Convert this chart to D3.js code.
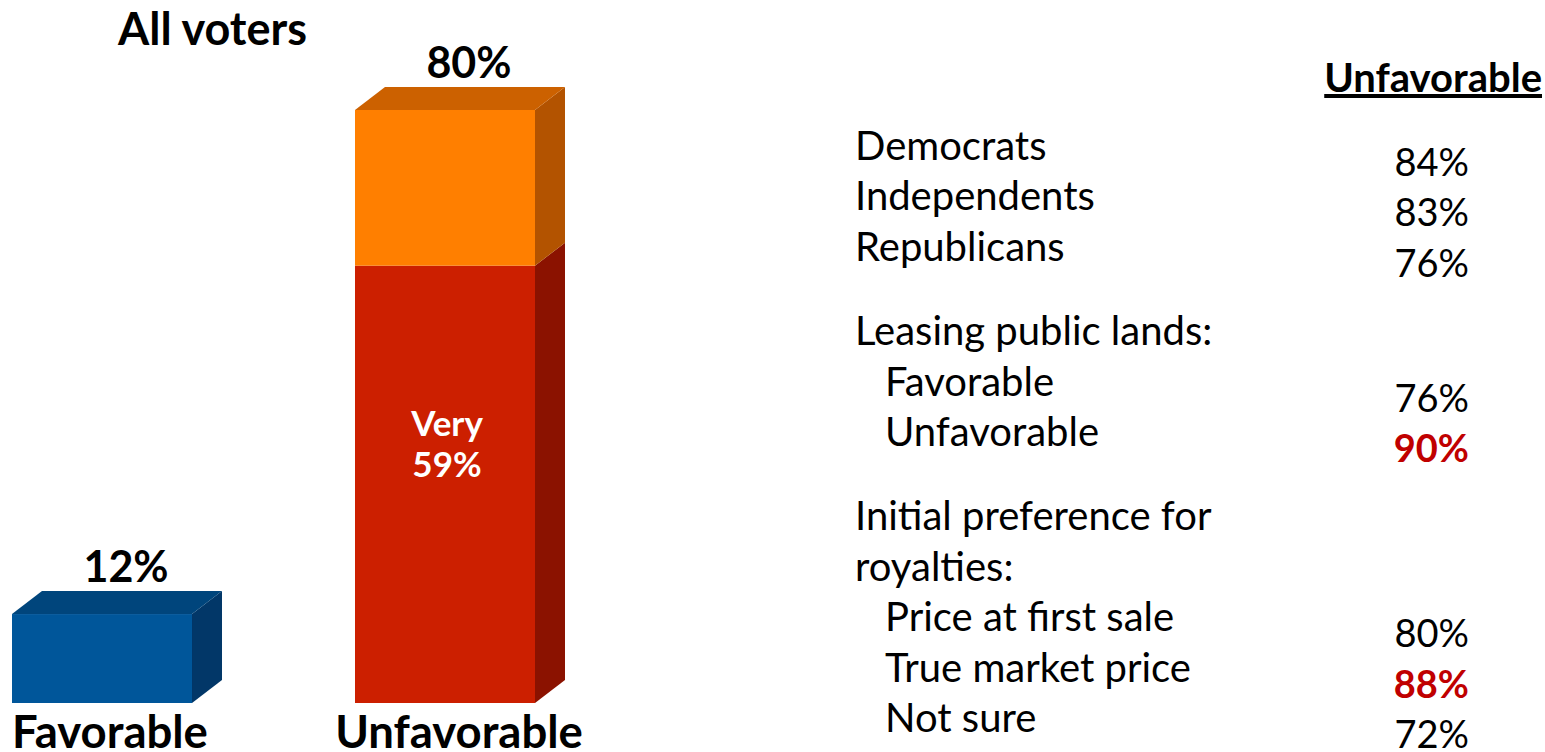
<!DOCTYPE html>
<html>
<head>
<meta charset="utf-8">
<script src="https://cdn.jsdelivr.net/npm/d3@7"></script>
<style>
  html, body { margin: 0; padding: 0; background: #fff; }
  svg { display: block; font-family: "Lato", "Open Sans", sans-serif; }
</style>
</head>
<body>
<svg id="chart" width="1545" height="752"></svg>
<script>
// ---- Data ----
const categories = ["Favorable", "Unfavorable"];
const segmentKeys = ["very", "somewhat"];
const favorableValues = { very: 12, somewhat: 0 };
const unfavorableValues = { very: 59, somewhat: 21 };
const totals = [12, 80];
const insideLabel = ["Very", "59%"];

// Subgroup table on the right
const rowLabels = [
  "Democrats", "Independents", "Republicans",
  "Leasing public lands:", "Favorable", "Unfavorable",
  "Initial preference for", "royalties:", "Price at first sale", "True market price", "Not sure"
];
const rowIndent = [0, 0, 0, 0, 1, 1, 0, 0, 1, 1, 1];
const rowGroup = [0, 0, 0, 1, 1, 1, 2, 2, 2, 2, 2];
const rowValues = [84, 83, 76, null, 76, 90, null, null, 80, 88, 72];
const rowHighlight = [false, false, false, false, false, true, false, false, false, true, false];

// ---- Layout ----
const svg = d3.select("#chart");
const depthX = 30, depthY = 23;

const x = d3.scaleBand().domain(categories).range([12, 535]).paddingInner(0.4752).paddingOuter(0);
const y = d3.scaleLinear().domain([0, 100]).range([703, 703 - 741.25]);

const colors = {
  Favorable: { very: { front: "#00569A", side: "#023768", top: "#00457C" } },
  Unfavorable: {
    very: { front: "#CC1F00", side: "#8B1200", top: "#A31800" },
    somewhat: { front: "#FF7F00", side: "#B35300", top: "#CC6100" }
  }
};

const rows = [
  Object.assign({ category: "Favorable" }, favorableValues),
  Object.assign({ category: "Unfavorable" }, unfavorableValues)
];
const stacked = d3.stack().keys(segmentKeys)(rows);

// flatten into segments
const segs = [];
stacked.forEach(layer => {
  layer.forEach(d => {
    if (d[1] - d[0] > 0) {
      segs.push({ key: layer.key, category: d.data.category, y0: d[0], y1: d[1] });
    }
  });
});

const bars = svg.append("g").attr("class", "bars");

segs.forEach(s => {
  const x0 = x(s.category), x1 = x0 + x.bandwidth();
  const yt = y(s.y1), yb = y(s.y0);
  const c = colors[s.category][s.key];
  // right side face
  bars.append("polygon")
    .attr("points", [[x1, yb], [x1 + depthX, yb - depthY], [x1 + depthX, yt - depthY], [x1, yt]].map(p => p.join(",")).join(" "))
    .attr("fill", c.side);
  // front face
  bars.append("rect")
    .attr("x", x0).attr("y", yt)
    .attr("width", x1 - x0).attr("height", yb - yt)
    .attr("fill", c.front);
});

// top faces for the topmost segment of each bar
const labelShift = [8, 14];
rows.forEach((r, i) => {
  const cat = r.category;
  const total = totals[i];
  const topKey = segs.filter(s => s.category === cat).slice(-1)[0].key;
  const c = colors[cat][topKey];
  const x0 = x(cat), x1 = x0 + x.bandwidth();
  const yt = y(total);
  bars.append("polygon")
    .attr("points", [[x0, yt], [x0 + depthX, yt - depthY], [x1 + depthX, yt - depthY], [x1, yt]].map(p => p.join(",")).join(" "))
    .attr("fill", c.top);

  // total label above the bar
  svg.append("text")
    .attr("x", x0 + (x.bandwidth() + depthX) / 2 + 9)
    .attr("y", yt - depthY - 9)
    .attr("text-anchor", "middle")
    .attr("font-weight", "bold")
    .attr("font-size", 43)
    .attr("fill", "#000")
    .text(total + "%");

  // category label under the bar
  svg.append("text")
    .attr("x", x0 + x.bandwidth() / 2 + labelShift[i])
    .attr("y", 748)
    .attr("text-anchor", "middle")
    .attr("font-weight", "bold")
    .attr("font-size", 45.5)
    .attr("fill", "#000")
    .text(cat);
});

// label inside the "very" segment of the Unfavorable bar
{
  const s = segs.find(d => d.category === "Unfavorable" && d.key === "very");
  const cx = x(s.category) + x.bandwidth() / 2 + 2;
  const mid = (y(s.y0) + y(s.y1)) / 2;
  svg.append("text")
    .attr("x", cx).attr("y", mid - 48)
    .attr("text-anchor", "middle").attr("font-weight", "bold")
    .attr("font-size", 35).attr("fill", "#fff")
    .text(insideLabel[0]);
  svg.append("text")
    .attr("x", cx).attr("y", mid - 7)
    .attr("text-anchor", "middle").attr("font-weight", "bold")
    .attr("font-size", 35).attr("fill", "#fff")
    .text(insideLabel[1]);
}

// title
svg.append("text")
  .attr("x", 118).attr("y", 45)
  .attr("font-weight", "bold")
  .attr("font-size", 45)
  .attr("fill", "#000")
  .text("All voters");

// ---- Right-hand subgroup table ----
svg.append("text")
  .attr("x", 1542).attr("y", 92)
  .attr("text-anchor", "end")
  .attr("font-weight", "bold")
  .attr("font-size", 40)
  .attr("text-decoration", "underline")
  .attr("fill", "#000")
  .text("Unfavorable");

const lineH = 50.4, groupGap = 34, firstBase = 160;
const baseY = i => firstBase + i * lineH + rowGroup[i] * groupGap;

const table = svg.append("g").attr("class", "table");
table.selectAll("text.row-label")
  .data(rowLabels)
  .join("text")
  .attr("class", "row-label")
  .attr("x", (d, i) => 855 + rowIndent[i] * 30)
  .attr("y", (d, i) => baseY(i))
  .attr("font-size", 40)
  .attr("fill", "#000")
  .text(d => d);

table.selectAll("text.row-value")
  .data(rowValues.map((v, i) => ({ v, i })).filter(d => d.v !== null))
  .join("text")
  .attr("class", "row-value")
  .attr("x", 1469)
  .attr("y", d => baseY(d.i) + 16)
  .attr("text-anchor", "end")
  .attr("font-size", 38)
  .attr("font-weight", d => rowHighlight[d.i] ? "bold" : "normal")
  .attr("fill", d => rowHighlight[d.i] ? "#C00000" : "#000")
  .text(d => d.v + "%");
</script>
</body>
</html>
